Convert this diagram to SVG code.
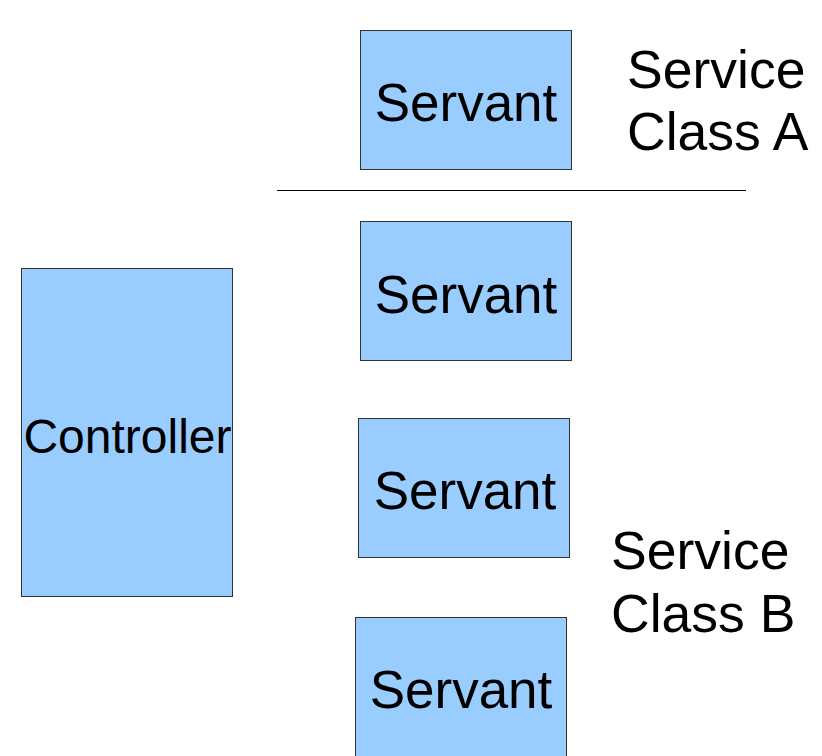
<svg xmlns="http://www.w3.org/2000/svg" width="822" height="756" viewBox="0 0 822 756">
  <style>
    .box { fill: #99ccff; stroke: #333333; stroke-width: 1; }
    .label { font-family: "Liberation Sans", Arial, sans-serif; fill: #000000; text-anchor: middle; }
    .servant { font-size: 53px; }
    .ctrl { font-size: 48px; }
    .note { font-family: "Liberation Sans", Arial, sans-serif; font-size: 53.5px; fill: #000000; }
    .divider { stroke: #000000; stroke-width: 1; }
  </style>
  <rect width="822" height="756" fill="#ffffff"/>

  <g id="controller">
    <rect class="box" x="21.5" y="268.5" width="211" height="328"/>
    <text class="label ctrl" x="127.5" y="453">Controller</text>
  </g>

  <g id="servant-a">
    <rect class="box" x="360.5" y="30.5" width="211" height="139"/>
    <text class="label servant" x="466" y="121">Servant</text>
  </g>

  <g id="servant-b1">
    <rect class="box" x="360.5" y="221.5" width="211" height="139"/>
    <text class="label servant" x="466" y="313">Servant</text>
  </g>

  <g id="servant-b2">
    <rect class="box" x="358.5" y="418.5" width="211" height="139"/>
    <text class="label servant" x="465" y="509">Servant</text>
  </g>

  <g id="servant-b3">
    <rect class="box" x="355.5" y="617.5" width="211" height="150"/>
    <text class="label servant" x="461" y="708">Servant</text>
  </g>

  <g id="class-a-label">
    <text class="note" x="627" y="88">Service</text>
    <text class="note" x="627" y="150">Class A</text>
  </g>

  <g id="class-b-label">
    <text class="note" x="611" y="569">Service</text>
    <text class="note" x="611" y="632">Class B</text>
  </g>

  <g id="connectors">
    <line class="divider" x1="277" y1="190.5" x2="746" y2="190.5"/>
  </g>
</svg>
